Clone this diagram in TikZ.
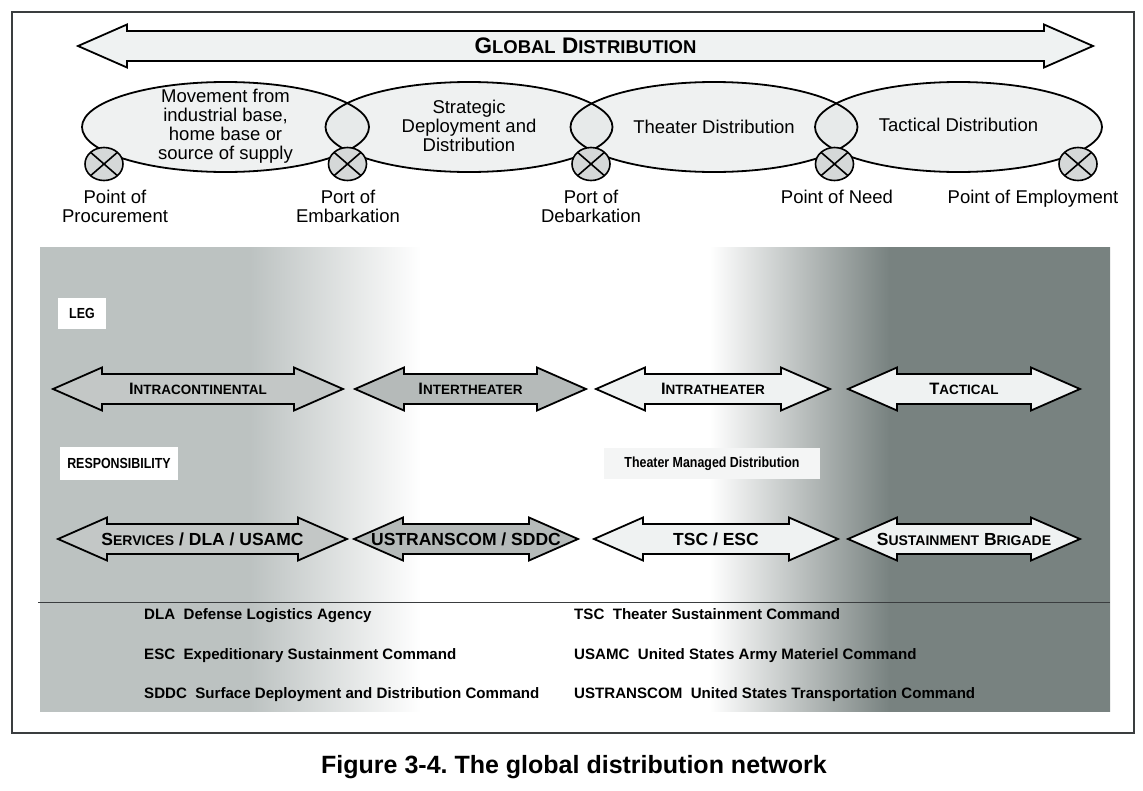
\documentclass[tikz,border=0pt]{standalone}
\usepackage{fontspec}
\setmainfont{Liberation Sans}
\newfontfamily\narrowfont{Liberation Sans}[FakeStretch=0.85]
\usetikzlibrary{shapes.geometric}
\frenchspacing

\definecolor{framegray}{HTML}{3A3D3F}
\definecolor{panelgray}{HTML}{BCC2C1}
\definecolor{paneldark}{HTML}{788280}
\definecolor{palefill}{HTML}{EFF2F2}
\definecolor{midfill}{HTML}{C3C7C6}
\definecolor{darkfill}{HTML}{B5BAB9}
\definecolor{ovalfill}{HTML}{DFE3E3}
\definecolor{crossfill}{HTML}{D5D8D8}
\definecolor{boxfill}{HTML}{F4F5F5}

\pgfdeclarehorizontalshading{panelfade}{100bp}{color(0bp)=(panelgray); color(34.8bp)=(panelgray);
  color(42.8bp)=(white); color(56.3bp)=(white); color(64.7bp)=(paneldark); color(100bp)=(paneldark)}

\def\scsz{13.5}
\newcommand{\sm}[1]{{\fontsize{\scsz}{\scsz}\selectfont #1}}

% block arrow with two heads: [style] name, left tip, right tip, y, fill, text
\newcommand{\twoway}[7][rowone]{%
  \draw[blockline, fill=#6] (#3,#5) -- (#3+49,#5-21.5) -- (#3+49,#5-15) -- (#4-49,#5-15)
    -- (#4-49,#5-21.5) -- (#4,#5) -- (#4-49,#5+21.5) -- (#4-49,#5+15)
    -- (#3+49,#5+15) -- (#3+49,#5+21.5) -- cycle;
  \node[#1] (#2) at ({(#3+#4)/2},#5) {#7};}

\begin{document}
\begin{tikzpicture}[x=1pt, y=-1pt,
  blockline/.style={draw=black, line width=1.8pt, line join=miter},
  topline/.style={font=\bfseries\fontsize{22.5}{24}\selectfont\def\scsz{18.5}},
  rowone/.style={font=\bfseries\fontsize{16.5}{18}\selectfont\def\scsz{13.5}},
  rowtwo/.style={font=\bfseries\fontsize{17.5}{19}\selectfont\def\scsz{14}},
  ovaltext/.style={align=center, font=\fontsize{18.5}{19}\selectfont},
  oneline/.style={text height=13.5pt, text depth=4pt},
  ovalline/.style={draw=black, line width=1.8pt},
  xmark/.style={ellipse, draw=black, line width=1.6pt, fill=crossfill,
    minimum width=38pt, minimum height=33pt, inner sep=0pt,
    path picture={\draw[line width=1.6pt]
      (path picture bounding box.north west) -- (path picture bounding box.south east)
      (path picture bounding box.north east) -- (path picture bounding box.south west);}},
  tagbox/.style={fill=white, inner sep=0pt, font=\narrowfont\bfseries\fontsize{14.6}{16}\selectfont},
  keytext/.style={anchor=west, inner sep=0pt, text height=11pt, text depth=3pt,
    font=\bfseries\fontsize{15.1}{17}\selectfont}]

\useasboundingbox (0,0) rectangle (1143,790);
\draw[framegray, line width=2pt] (12,12) rectangle (1134,733);

% shaded panel
\shade[shading=panelfade] (40,247) rectangle (1110,711);
\draw[framegray, line width=1pt] (38,602) -- (1110,602);

% top arrow
\twoway[topline]{global}{78}{1093}{46}{palefill}{G\sm{LOBAL} D\sm{ISTRIBUTION}}

% ovals
\foreach \ox in {225.5,469,714,958.5}
  \fill[ovalfill, fill opacity=0.5] (\ox,127) ellipse [x radius=143.5, y radius=45];
\foreach \ox in {225.5,469,714,958.5}
  \draw[ovalline] (\ox,127) ellipse [x radius=143.5, y radius=45];
\node[ovaltext] (move) at (225.5,126.5) {Movement from\\industrial base,\\home base or\\source of supply};
\node[ovaltext] (strat) at (469,125.5) {Strategic\\Deployment and\\Distribution};
\node[ovaltext, oneline] (theater) at (714,129) {Theater Distribution};
\node[ovaltext, oneline] (tact) at (958.5,127) {Tactical Distribution};

% points
\foreach \px [count=\i] in {104,347.5,591,834.5,1078}
  \node[xmark] (p\i) at (\px,164) {};
\node[ovaltext] (proc) at (115,206) {Point of\\Procurement};
\node[ovaltext] (embark) at (348,206) {Port of\\Embarkation};
\node[ovaltext] (debark) at (591,206) {Port of\\Debarkation};
\node[ovaltext, oneline] (need) at (837,199) {Point of Need};
\node[ovaltext, oneline] (employ) at (1033,199) {Point of Employment};

% legs
\node[tagbox, minimum width=48pt, minimum height=31pt] (leg) at (82,313.5) {LEG};
\twoway{intracon}{53}{343}{389}{midfill}{I\sm{NTRACONTINENTAL}}
\twoway{inter}{355}{586}{389}{darkfill}{I\sm{NTERTHEATER}}
\twoway{intra}{596}{830}{389}{palefill}{I\sm{NTRATHEATER}}
\twoway{tactical}{848}{1080}{389}{palefill}{T\sm{ACTICAL}}

% responsibility
\node[tagbox, minimum width=118pt, minimum height=33pt] (resp) at (119,463.5) {RESPONSIBILITY};
\node[tagbox, fill=boxfill, minimum width=216pt, minimum height=31pt] (tmd) at (712,463.5) {Theater Managed Distribution};
\twoway[rowtwo]{services}{58}{347}{539}{midfill}{S\sm{ERVICES} / DLA / USAMC}
\twoway[rowtwo]{ustc}{354}{578}{539}{darkfill}{USTRANSCOM / SDDC}
\twoway[rowtwo]{tsc}{594}{838}{539}{palefill}{TSC / ESC}
\twoway[rowtwo]{brigade}{848}{1080}{539}{palefill}{S\sm{USTAINMENT} B\sm{RIGADE}}

% key
\node[keytext] (dla) at (144,615) {DLA\ \ Defense Logistics Agency};
\node[keytext] (esc) at (144,655) {ESC\ \ Expeditionary Sustainment Command};
\node[keytext] (sddc) at (144,694) {SDDC\ \ Surface Deployment and Distribution Command};
\node[keytext] (tsck) at (574,615) {TSC\ \ Theater Sustainment Command};
\node[keytext] (usamc) at (574,655) {USAMC\ \ United States Army Materiel Command};
\node[keytext] (ustck) at (574,694) {USTRANSCOM\ \ United States Transportation Command};

\node[font=\bfseries\fontsize{25}{27}\selectfont] (caption) at (574,767) {Figure 3-4. The global distribution network};
\end{tikzpicture}
\end{document}
